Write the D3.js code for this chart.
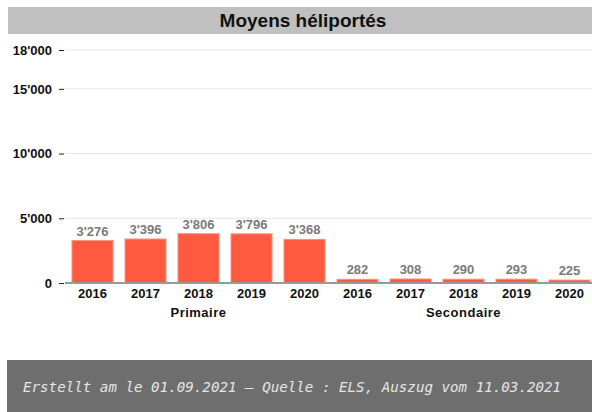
<!DOCTYPE html>
<html lang="fr">
<head>
<meta charset="utf-8" />
<title>Moyens héliportés</title>
<style>
  body { margin: 0; background: #fff; }
  svg { display: block; }
</style>
</head>
<body>
<div id="chart"></div>
<script src="https://d3js.org/d3.v7.min.js"></script>
<script>
  const groups = ['Primaire', 'Secondaire'];
  const years = ['2016', '2017', '2018', '2019', '2020'];
  const primaire = [3276, 3396, 3806, 3796, 3368];
  const secondaire = [282, 308, 290, 293, 225];
  const yTicks = [0, 5000, 10000, 15000, 18000];
  const title = 'Moyens héliportés';
  const source = 'Erstellt am le 01.09.2021 \u2013 Quelle : ELS, Auszug vom 11.03.2021';

  const width = 592;
  const height = 412;
  const font = '"Liberation Sans", Arial, sans-serif';

  const rows = [];
  groups.forEach((g, gi) => {
    const vals = gi === 0 ? primaire : secondaire;
    years.forEach((yr, i) => rows.push({ key: g + '-' + yr, group: g, year: yr, value: vals[i] }));
  });

  const fmt = v => d3.format(',')(v).replace(/,/g, "'");

  const svg = d3.select('#chart').append('svg')
    .attr('width', width)
    .attr('height', height);

  // title bar
  svg.append('rect')
    .attr('x', 8).attr('y', 7)
    .attr('width', width - 8).attr('height', 27)
    .attr('fill', '#c0c0c0');
  svg.append('text')
    .attr('x', 303).attr('y', 27)
    .attr('text-anchor', 'middle')
    .style('font-family', font)
    .style('font-weight', 'bold')
    .style('font-size', '19px')
    .style('fill', '#111')
    .text(title);

  const x = d3.scaleBand()
    .domain(rows.map(d => d.key))
    .range([66, 596])
    .paddingInner(12 / 53)
    .paddingOuter(6 / 53);

  const y = d3.scaleLinear()
    .domain([0, 18000])
    .range([283, 50]);

  // grid
  svg.append('g')
    .selectAll('line')
    .data(yTicks.filter(t => t > 0))
    .join('line')
    .attr('x1', 65).attr('x2', width)
    .attr('y1', d => y(d)).attr('y2', d => y(d))
    .attr('stroke', '#e6e6e6')
    .attr('stroke-width', 1);

  // y axis
  const yAxis = svg.append('g')
    .attr('transform', 'translate(64,0)')
    .call(d3.axisLeft(y).tickValues(yTicks).tickSize(5).tickPadding(7).tickFormat(fmt));
  yAxis.select('.domain').remove();
  yAxis.selectAll('.tick line').attr('stroke', '#222');
  yAxis.selectAll('text')
    .style('font-family', font)
    .style('font-weight', 'bold')
    .style('font-size', '13px')
    .style('fill', '#111');

  // bars
  svg.append('g')
    .selectAll('rect')
    .data(rows)
    .join('rect')
    .attr('x', d => x(d.key))
    .attr('y', d => y(d.value))
    .attr('width', x.bandwidth())
    .attr('height', d => y(0) - y(d.value))
    .attr('fill', '#ff5a40')
    .attr('stroke', '#ff8a78')
    .attr('stroke-width', 1);

  // baseline
  svg.append('line')
    .attr('x1', 65).attr('x2', width)
    .attr('y1', y(0)).attr('y2', y(0))
    .attr('stroke', '#999')
    .attr('stroke-width', 2);

  // value labels
  svg.append('g')
    .selectAll('text')
    .data(rows)
    .join('text')
    .attr('x', d => x(d.key) + x.bandwidth() / 2)
    .attr('y', d => y(d.value) - 5)
    .attr('text-anchor', 'middle')
    .style('font-family', font)
    .style('font-weight', 'bold')
    .style('font-size', '13px')
    .style('fill', '#7a7a7a')
    .text(d => fmt(d.value));

  // year labels
  svg.append('g')
    .selectAll('text')
    .data(rows)
    .join('text')
    .attr('x', d => x(d.key) + x.bandwidth() / 2)
    .attr('y', 298)
    .attr('text-anchor', 'middle')
    .style('font-family', font)
    .style('font-weight', 'bold')
    .style('font-size', '13px')
    .style('fill', '#111')
    .text(d => d.year);

  // group labels
  svg.append('g')
    .selectAll('text')
    .data(groups)
    .join('text')
    .attr('x', g => {
      const ks = rows.filter(r => r.group === g).map(r => r.key);
      return (x(ks[0]) + x(ks[ks.length - 1]) + x.bandwidth()) / 2;
    })
    .attr('y', 317)
    .attr('text-anchor', 'middle')
    .style('font-family', font)
    .style('font-weight', 'bold')
    .style('font-size', '13px')
    .style('letter-spacing', '0.5px')
    .style('fill', '#111')
    .text(g => g);

  // footer
  svg.append('rect')
    .attr('x', 7).attr('y', 360)
    .attr('width', width - 7).attr('height', height - 360)
    .attr('fill', '#6e6e6e');
  svg.append('text')
    .attr('x', 23).attr('y', 392)
    .style('font-family', '"DejaVu Sans Mono", monospace')
    .style('font-style', 'italic')
    .style('font-size', '14.2px')
    .style('fill', '#e6e6e6')
    .text(source);
</script>
</body>
</html>
